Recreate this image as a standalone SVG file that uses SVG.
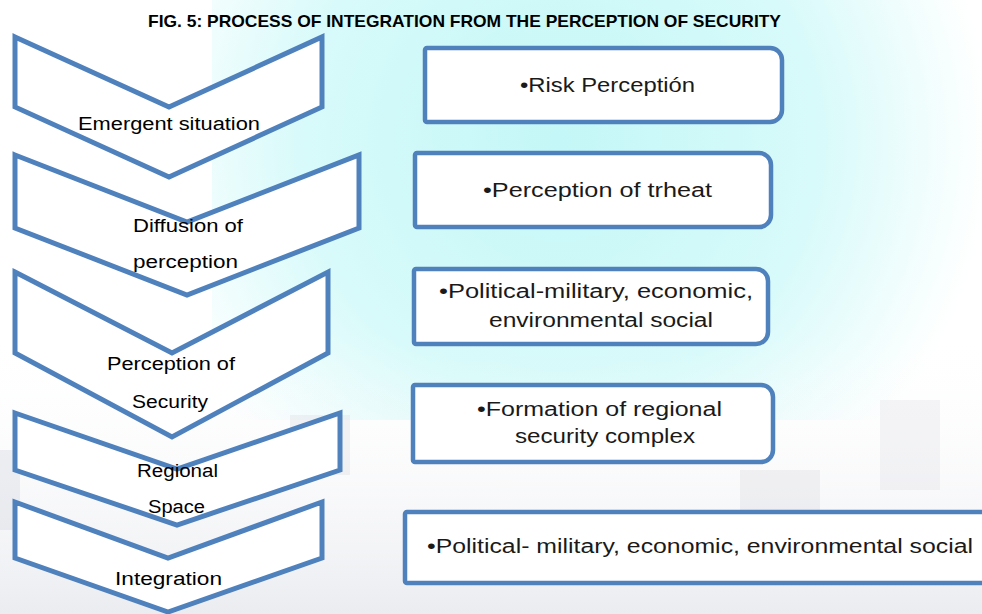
<svg xmlns="http://www.w3.org/2000/svg" width="982" height="614" viewBox="0 0 982 614">
  <style>
    .chev { fill: #ffffff; stroke: #4f81bd; stroke-width: 5; stroke-linejoin: miter; }
    .box { fill: #ffffff; stroke: #4f81bd; stroke-width: 4.5; }
    .lbl { font-family: "Liberation Sans", Arial, sans-serif; font-size: 18px; fill: #000000; }
    .btx { font-family: "Liberation Sans", Arial, sans-serif; font-size: 20px; fill: #1a1a1a; }
    .title { font-family: "Liberation Sans", Arial, sans-serif; font-size: 17px; font-weight: bold; fill: #000000; }
  </style>
  <defs>
    <radialGradient id="cyan" cx="560" cy="140" r="430" gradientUnits="userSpaceOnUse">
      <stop offset="0" stop-color="#c4f7f7"/>
      <stop offset="0.6" stop-color="#d8fafa"/>
      <stop offset="1" stop-color="#ffffff"/>
    </radialGradient>
    <linearGradient id="grayfade" x1="0" y1="0" x2="0" y2="1">
      <stop offset="0" stop-color="#ffffff" stop-opacity="0"/>
      <stop offset="1" stop-color="#e2e4ea" stop-opacity="0.7"/>
    </linearGradient>
  </defs>

  <g id="background">
    <rect x="0" y="0" width="982" height="614" fill="#ffffff"/>
    <rect x="212" y="0" width="770" height="420" fill="url(#cyan)"/>
    <rect x="0" y="330" width="982" height="284" fill="url(#grayfade)"/>
    <rect x="290" y="415" width="60" height="60" fill="#d6d6de" opacity="0.3"/>
    <rect x="740" y="470" width="80" height="40" fill="#d6d6de" opacity="0.3"/>
    <rect x="880" y="400" width="60" height="90" fill="#d6d6de" opacity="0.25"/>
    <rect x="0" y="450" width="20" height="80" fill="#d0d4dc" opacity="0.35"/>
  </g>

  <g id="title">
    <text class="title" x="148" y="27" textLength="633" lengthAdjust="spacingAndGlyphs">FIG. 5: PROCESS OF INTEGRATION FROM THE PERCEPTION OF SECURITY</text>
  </g>

  <g id="connectors"></g>

  <g id="step1">
    <path class="chev" d="M15,37 L169,107 L322,37 L322,107 L169,177 L15,107 Z"/>
  </g>
  <g id="step2">
    <path class="chev" d="M15,155 L187,222 L359,155 L359,228 L187,295 L15,228 Z"/>
  </g>
  <g id="step3">
    <path class="chev" d="M15,272 L172,353 L328,272 L328,353 L172,437 L15,353 Z"/>
  </g>
  <g id="step4">
    <path class="chev" d="M15,413 L177,469 L340,413 L340,470 L177,525 L15,470 Z"/>
  </g>
  <g id="step5">
    <path class="chev" d="M15,502 L168,558 L322,502 L322,558 L168,612 L15,558 Z"/>
  </g>

  <g id="step-labels">
    <text class="lbl" x="78" y="130" textLength="182" lengthAdjust="spacingAndGlyphs">Emergent situation</text>
    <text class="lbl" x="133" y="232" textLength="110" lengthAdjust="spacingAndGlyphs">Diffusion of</text>
    <text class="lbl" x="133" y="268" textLength="105" lengthAdjust="spacingAndGlyphs">perception</text>
    <text class="lbl" x="107" y="370" textLength="128" lengthAdjust="spacingAndGlyphs">Perception of</text>
    <text class="lbl" x="132" y="408" textLength="76" lengthAdjust="spacingAndGlyphs">Security</text>
    <text class="lbl" x="137" y="477" textLength="81" lengthAdjust="spacingAndGlyphs">Regional</text>
    <text class="lbl" x="148" y="513" textLength="57" lengthAdjust="spacingAndGlyphs">Space</text>
    <text class="lbl" x="115" y="585" textLength="107" lengthAdjust="spacingAndGlyphs">Integration</text>
  </g>

  <g id="box1">
    <path class="box" d="M427,48 H770 A12,12 0 0 1 782,60 V110 A12,12 0 0 1 770,122 H427 A2,2 0 0 1 425,120 V50 A2,2 0 0 1 427,48 Z"/>
    <text class="btx" x="520" y="92" textLength="175" lengthAdjust="spacingAndGlyphs">•Risk Perceptión</text>
  </g>
  <g id="box2">
    <path class="box" d="M417,153 H759 A12,12 0 0 1 771,165 V215 A12,12 0 0 1 759,227 H417 A2,2 0 0 1 415,225 V155 A2,2 0 0 1 417,153 Z"/>
    <text class="btx" x="483" y="197" textLength="229" lengthAdjust="spacingAndGlyphs">•Perception of trheat</text>
  </g>
  <g id="box3">
    <path class="box" d="M416,269 H756 A12,12 0 0 1 768,281 V332 A12,12 0 0 1 756,344 H416 A2,2 0 0 1 414,342 V271 A2,2 0 0 1 416,269 Z"/>
    <text class="btx" x="439" y="298" textLength="314" lengthAdjust="spacingAndGlyphs">•Political-military, economic,</text>
    <text class="btx" x="489" y="327" textLength="224" lengthAdjust="spacingAndGlyphs">environmental social</text>
  </g>
  <g id="box4">
    <path class="box" d="M415,385 H761 A12,12 0 0 1 773,397 V450 A12,12 0 0 1 761,462 H415 A2,2 0 0 1 413,460 V387 A2,2 0 0 1 415,385 Z"/>
    <text class="btx" x="477" y="416" textLength="245" lengthAdjust="spacingAndGlyphs">•Formation of regional</text>
    <text class="btx" x="515" y="443" textLength="180" lengthAdjust="spacingAndGlyphs">security complex</text>
  </g>
  <g id="box5">
    <path class="box" d="M407,512 H1000 V583 H407 A2,2 0 0 1 405,581 V514 A2,2 0 0 1 407,512 Z"/>
    <text class="btx" x="427" y="553" textLength="546" lengthAdjust="spacingAndGlyphs">•Political- military, economic, environmental social</text>
  </g>
</svg>
